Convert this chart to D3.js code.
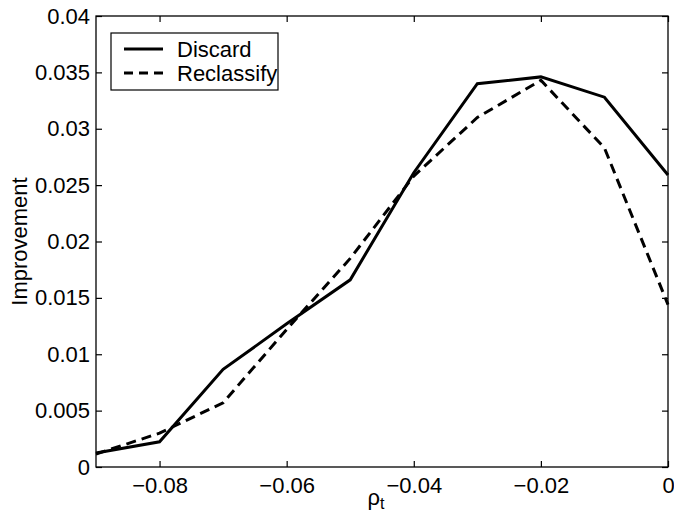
<!DOCTYPE html>
<html>
<head>
<meta charset="utf-8">
<script src="https://cdn.jsdelivr.net/npm/d3@7"></script>
<style>
  body { margin: 0; background: #fff; }
  text { font-family: "Liberation Sans", Arial, sans-serif; fill: #000; }
</style>
</head>
<body>
<div id="chart"></div>
<script>
// Data
var rho = [-0.09, -0.08, -0.07, -0.06, -0.05, -0.04, -0.03, -0.02, -0.01, 0];
var discard = [0.00124, 0.00224, 0.00866, 0.0127, 0.0166, 0.0261, 0.0340, 0.0346, 0.0328, 0.0259];
var reclassify = [0.00115, 0.0030, 0.0057, 0.0122, 0.0185, 0.0258, 0.0310, 0.0343, 0.0283, 0.0144];
var xTicks = [-0.08, -0.06, -0.04, -0.02, 0];
var yTicks = [0, 0.005, 0.01, 0.015, 0.02, 0.025, 0.03, 0.035, 0.04];
var seriesNames = ["Discard", "Reclassify"];

var W = 674, H = 516;
var margin = {top: 16, right: 6, bottom: 49, left: 96};
var width = W - margin.left - margin.right,
    height = H - margin.top - margin.bottom;

var svg = d3.select("#chart").append("svg")
  .attr("width", W).attr("height", H);

var g = svg.append("g")
  .attr("transform", "translate(" + margin.left + "," + margin.top + ")");

var x = d3.scaleLinear().domain([-0.09, 0]).range([0, width]);
var y = d3.scaleLinear().domain([0, 0.04]).range([height, 0]);

var fmtX = function(d) { return d === 0 ? "0" : "\u2212" + String(Math.abs(d)); };
var fmtY = function(d) { return d === 0 ? "0" : String(d); };

// axes (ticks pointing inward, MATLAB style)
var xAxis = d3.axisBottom(x).tickValues(xTicks).tickSize(-6).tickPadding(10).tickFormat(fmtX);
var yAxis = d3.axisLeft(y).tickValues(yTicks).tickSize(-6).tickPadding(6).tickFormat(fmtY);
var xTop = d3.axisTop(x).tickValues(xTicks).tickSize(-6).tickFormat("");
var yRight = d3.axisRight(y).tickValues(yTicks).tickSize(-6).tickFormat("");

function style(sel) {
  sel.select(".domain").remove();
  sel.selectAll("line").attr("stroke", "#000").attr("stroke-width", 1.2);
  sel.selectAll("text").style("font-size", "22px");
}

g.append("g").attr("transform", "translate(0," + height + ")").call(xAxis).call(style);
g.append("g").call(yAxis).call(style);
g.append("g").call(xTop).call(style);
g.append("g").attr("transform", "translate(" + width + ",0)").call(yRight).call(style);

// box
g.append("rect")
  .attr("width", width).attr("height", height)
  .attr("fill", "none").attr("stroke", "#000").attr("stroke-width", 1.3);

var line = d3.line()
  .x(function(d, i) { return x(rho[i]); })
  .y(function(d) { return y(d); });

g.append("path").datum(discard)
  .attr("d", line).attr("fill", "none")
  .attr("stroke", "#000").attr("stroke-width", 3);

g.append("path").datum(reclassify)
  .attr("d", line).attr("fill", "none")
  .attr("stroke", "#000").attr("stroke-width", 3)
  .attr("stroke-dasharray", "10,6");

// legend
var leg = g.append("g").attr("transform", "translate(15,17)");
leg.append("rect").attr("width", 167).attr("height", 57)
  .attr("fill", "#fff").attr("stroke", "#000").attr("stroke-width", 1.2);
seriesNames.forEach(function(name, i) {
  var yy = 16 + i * 24;
  leg.append("line").attr("x1", 13).attr("x2", 52).attr("y1", yy).attr("y2", yy)
    .attr("stroke", "#000").attr("stroke-width", 3)
    .attr("stroke-dasharray", i === 1 ? "9,6" : null);
  leg.append("text").attr("x", 66).attr("y", yy + 8)
    .style("font-size", "22px").text(name);
});

// axis labels
svg.append("text")
  .attr("transform", "translate(27," + (margin.top + height / 2) + ") rotate(-90)")
  .attr("text-anchor", "middle")
  .style("font-size", "22px")
  .text("Improvement");

var xl = svg.append("text")
  .attr("x", margin.left + width / 2 - 6).attr("y", 505)
  .attr("text-anchor", "middle")
  .style("font-size", "22px");
xl.append("tspan").text("\u03C1");
xl.append("tspan").attr("dy", 4).style("font-size", "16px").text("t");
</script>
</body>
</html>
